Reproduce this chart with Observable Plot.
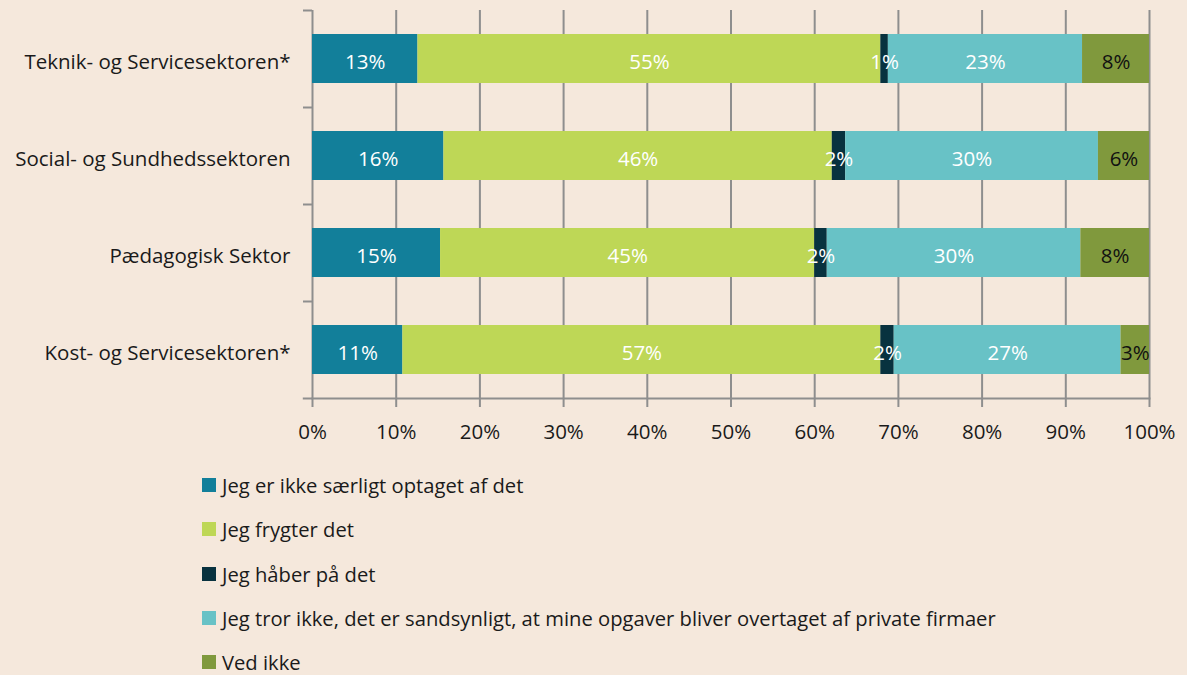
<!DOCTYPE html>
<html>
<head>
<meta charset="utf-8">
<script src="https://cdn.jsdelivr.net/npm/d3@7"></script>
<script src="https://cdn.jsdelivr.net/npm/@observablehq/plot@0.6"></script>
<style>
  html, body { margin: 0; padding: 0; background: #F5E8DC; }
  body { width: 1187px; height: 675px; overflow: hidden; font-family: "Open Sans", sans-serif; }
  #legend { margin-top: 8px; padding-left: 202px; }
  .item { height: 44.3px; display: flex; align-items: center; font-size: 20.2px; color: #1a1a1a; }
  .sw { width: 14px; height: 14px; margin-right: 6px; display: inline-block; }
</style>
</head>
<body>
<div id="chart"></div>
<div id="legend"></div>
<script>
const categories = ["Teknik- og Servicesektoren*", "Social- og Sundhedssektoren", "Pædagogisk Sektor", "Kost- og Servicesektoren*"];
const series = [
  "Jeg er ikke særligt optaget af det",
  "Jeg frygter det",
  "Jeg håber på det",
  "Jeg tror ikke, det er sandsynligt, at mine opgaver bliver overtaget af private firmaer",
  "Ved ikke"
];
const colors = ["#127F9A", "#BED756", "#08323F", "#68C2C6", "#80993D"];
const labelColors = ["#ffffff", "#ffffff", "#ffffff", "#ffffff", "#111111"];
// values (percent) per category, in series order
const teknik = [12.6, 55.3, 0.9, 23.2, 8.0];
const social = [15.7, 46.4, 1.6, 30.2, 6.1];
const paed = [15.3, 44.7, 1.5, 30.3, 8.2];
const kost = [10.8, 57.1, 1.6, 27.1, 3.4];
const xTicks = [0, 10, 20, 30, 40, 50, 60, 70, 80, 90, 100];

const valuesByCat = [teknik, social, paed, kost];
const data = [];
categories.forEach((c, i) => {
  series.forEach((s, j) => {
    data.push({cat: c, series: s, value: valuesByCat[i][j], si: j});
  });
});

const grid = "#8E8E8E";
const chart = Plot.plot({
  width: 1187,
  height: 455,
  marginTop: 10,
  marginBottom: 57,
  marginLeft: 312,
  marginRight: 38,
  style: {background: "#F5E8DC", fontFamily: "'Open Sans', sans-serif", color: "#1a1a1a"},
  x: {domain: [0, 100], ticks: xTicks, tickFormat: d => d + "%"},
  y: {domain: categories, padding: 0.5, paddingOuter: 0.25, align: 0.5},
  color: {domain: series, range: colors},
  marks: [
    Plot.ruleX(xTicks, {stroke: grid, strokeWidth: 2}),
    Plot.barX(data, Plot.stackX({x: "value", y: "cat", fill: "series", z: "si", order: null})),
    Plot.text(data, Plot.stackX({
      x: "value", y: "cat", z: "si", order: null,
      text: d => Math.round(d.value) + "%",
      fill: d => labelColors[d.si],
      fontSize: 20.5,
      dy: 3
    })),
    Plot.frame({anchor: "bottom", stroke: grid, strokeWidth: 2}),
    Plot.ruleY([categories[categories.length - 1]], {x1: -1.1, x2: 0, stroke: grid, strokeWidth: 2, dy: 48.5}),
    Plot.axisX({ticks: xTicks, tickFormat: d => d + "%", tickSize: 9, tickPadding: 17, fontSize: 20.5, stroke: grid, strokeWidth: 2, label: null}),
    Plot.axisY({tickSize: 0, tickPadding: 22, fontSize: 20.5, dy: 3, label: null}),
    Plot.axisY({tickSize: 9, text: null, dy: -48.5, stroke: grid, strokeWidth: 2, label: null})
  ]
});
document.getElementById("chart").appendChild(chart);

const legend = document.getElementById("legend");
series.forEach((s, j) => {
  const div = document.createElement("div");
  div.className = "item";
  const sw = document.createElement("span");
  sw.className = "sw";
  sw.style.background = colors[j];
  div.appendChild(sw);
  div.appendChild(document.createTextNode(s));
  legend.appendChild(div);
});
</script>
</body>
</html>
